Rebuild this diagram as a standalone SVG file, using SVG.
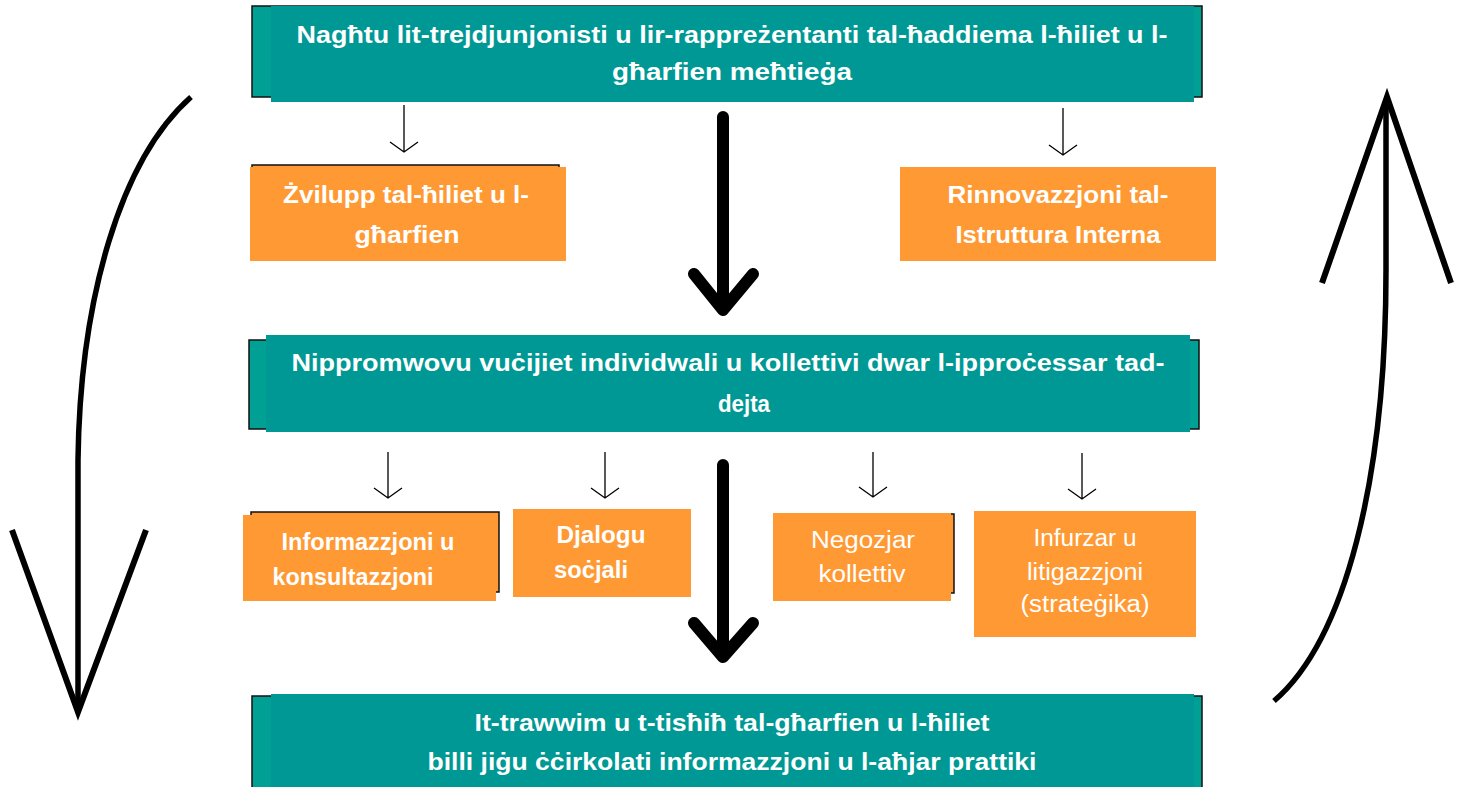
<svg xmlns="http://www.w3.org/2000/svg" width="1464" height="787" viewBox="0 0 1464 787">
<style>
.back{fill:#00A095;stroke:#111;stroke-width:1.5}
.teal{fill:#009894}
.oback{fill:#FF9933;stroke:#111;stroke-width:1.5}
.orange{fill:#FF9933}
.tb{font-family:"Liberation Sans",Arial,sans-serif;font-weight:bold;font-size:23px;fill:#fff;text-anchor:middle}
.tn{font-family:"Liberation Sans",Arial,sans-serif;font-weight:normal;font-size:23px;fill:#fff;text-anchor:middle}
.thin{stroke:#000;stroke-width:1.3;fill:none}
.big{stroke:#000;stroke-width:12;fill:none;stroke-linecap:round;stroke-linejoin:round}
.curve{stroke:#000;stroke-width:5.5;fill:none}
.wing{stroke:#000;stroke-width:6;fill:none;stroke-linejoin:miter;stroke-miterlimit:20}
</style>
<rect width="1464" height="787" fill="#fff"/>
<g id="connectors">
  <path class="thin" d="M404,105 V152 M390,142 L404,152 L418,142"/>
  <path class="thin" d="M1063,108 V155 M1049,145 L1063,155 L1077,145"/>
  <path class="thin" d="M388,452 V498 M374,488 L388,498 L402,488"/>
  <path class="thin" d="M605,452 V498 M591,488 L605,498 L619,488"/>
  <path class="thin" d="M873,452 V497 M859,487 L873,497 L887,487"/>
  <path class="thin" d="M1082,453 V499 M1068,489 L1082,499 L1096,489"/>
  <path class="big" d="M723,117 V310 M694,274 L723,310 L753,274"/>
  <path class="big" d="M723,465 V657 M694,623 L723,657 L753,623"/>
  <path class="curve" d="M191,97 C120,160 80,300 78,460 L78,712"/>
  <polyline class="wing" points="12,530 78,712 146,530"/>
  <path class="curve" d="M1274,701 C1345,640 1386,480 1386,270 L1386,100"/>
  <polyline class="wing" points="1322,283 1387,97 1451,283"/>
</g>
<g id="node-top">
  <rect class="back" x="252" y="6" width="950" height="91"/>
  <rect class="teal" x="271" y="6" width="923" height="96"/>
  <text class="tb" x="732" y="43" textLength="871" lengthAdjust="spacingAndGlyphs">Nagħtu lit-trejdjunjonisti u lir-rappreżentanti tal-ħaddiema l-ħiliet u l-</text>
  <text class="tb" x="732" y="80" textLength="240" lengthAdjust="spacingAndGlyphs">għarfien meħtieġa</text>
</g>
<g id="node-zvilupp">
  <rect class="oback" x="252" y="165" width="307" height="90"/>
  <rect class="orange" x="250" y="167" width="316" height="94"/>
  <text class="tb" x="406" y="203" textLength="246" lengthAdjust="spacingAndGlyphs">Żvilupp tal-ħiliet u l-</text>
  <text class="tb" x="407" y="243" textLength="105" lengthAdjust="spacingAndGlyphs">għarfien</text>
</g>
<g id="node-rinnovazzjoni">
  <rect class="orange" x="900" y="167" width="316" height="94"/>
  <text class="tb" x="1058" y="203" textLength="221" lengthAdjust="spacingAndGlyphs">Rinnovazzjoni tal-</text>
  <text class="tb" x="1058" y="243" textLength="205" lengthAdjust="spacingAndGlyphs">Istruttura Interna</text>
</g>
<g id="node-mid">
  <rect class="back" x="249" y="340" width="950" height="89"/>
  <rect class="teal" x="266" y="335" width="924" height="97"/>
  <text class="tb" x="728" y="371" textLength="873" lengthAdjust="spacingAndGlyphs">Nippromwovu vuċijiet individwali u kollettivi dwar l-ipproċessar tad-</text>
  <text class="tb" x="744" y="412" textLength="52" lengthAdjust="spacingAndGlyphs">dejta</text>
</g>
<g id="node-informazzjoni">
  <rect class="oback" x="251" y="512" width="248" height="80"/>
  <rect class="orange" x="243" y="515" width="253" height="86"/>
  <text class="tb" x="368" y="550" textLength="173" lengthAdjust="spacingAndGlyphs">Informazzjoni u</text>
  <text class="tb" x="353" y="585" textLength="161" lengthAdjust="spacingAndGlyphs">konsultazzjoni</text>
</g>
<g id="node-djalogu">
  <rect class="orange" x="513" y="509" width="178" height="88"/>
  <text class="tb" x="601" y="543" textLength="89" lengthAdjust="spacingAndGlyphs">Djalogu</text>
  <text class="tb" x="591" y="578" textLength="74" lengthAdjust="spacingAndGlyphs">soċjali</text>
</g>
<g id="node-negozjar">
  <rect class="oback" x="775" y="514" width="179" height="79"/>
  <rect class="orange" x="773" y="513" width="178" height="88"/>
  <text class="tn" x="863" y="548" textLength="104" lengthAdjust="spacingAndGlyphs">Negozjar</text>
  <text class="tn" x="862" y="582" textLength="87" lengthAdjust="spacingAndGlyphs">kollettiv</text>
</g>
<g id="node-infurzar">
  <rect class="orange" x="974" y="511" width="222" height="126"/>
  <text class="tn" x="1085" y="546" textLength="103" lengthAdjust="spacingAndGlyphs">Infurzar u</text>
  <text class="tn" x="1085" y="580" textLength="116" lengthAdjust="spacingAndGlyphs">litigazzjoni</text>
  <text class="tn" x="1085" y="612" textLength="129" lengthAdjust="spacingAndGlyphs">(strateġika)</text>
</g>
<g id="node-bottom">
  <rect class="back" x="252" y="696" width="950" height="100"/>
  <rect class="teal" x="271" y="694" width="923" height="100"/>
  <text class="tb" x="732" y="731" textLength="515" lengthAdjust="spacingAndGlyphs">It-trawwim u t-tisħiħ tal-għarfien u l-ħiliet</text>
  <text class="tb" x="732" y="770" textLength="609" lengthAdjust="spacingAndGlyphs">billi jiġu ċċirkolati informazzjoni u l-aħjar prattiki</text>
</g>
</svg>
